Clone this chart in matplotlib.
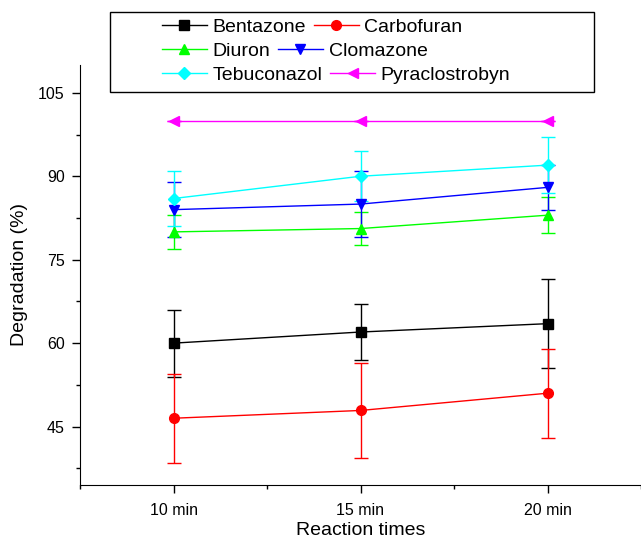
import matplotlib
matplotlib.use('Agg')
import matplotlib.pyplot as plt
from matplotlib.patches import Rectangle
from matplotlib.ticker import MultipleLocator

plt.rcParams['font.family'] = ['Liberation Sans', 'DejaVu Sans']

times = [10, 15, 20]
time_labels = ['10 min', '15 min', '20 min']

bentazone = [60, 62, 63.5]
bentazone_err = [6, 5, 8]
carbofuran = [46.5, 47.9, 51]
carbofuran_err = [8, 8.6, 8]
diuron = [80, 80.6, 83]
diuron_err = [3, 3, 3.2]
clomazone = [84, 85, 88]
clomazone_err = [5, 6, 4]
tebuconazol = [86, 90, 92]
tebuconazol_err = [5, 4.5, 5]
pyraclostrobyn = [100, 100, 100]
pyraclostrobyn_err = [0, 0, 0]

series = [
    ('Bentazone', bentazone, bentazone_err, 'black', 's'),
    ('Carbofuran', carbofuran, carbofuran_err, 'red', 'o'),
    ('Diuron', diuron, diuron_err, '#00ff00', '^'),
    ('Clomazone', clomazone, clomazone_err, 'blue', 'v'),
    ('Tebuconazol', tebuconazol, tebuconazol_err, 'cyan', 'D'),
    ('Pyraclostrobyn', pyraclostrobyn, pyraclostrobyn_err, 'magenta', '<'),
]

W, H = 641, 543
fig = plt.figure(figsize=(W / 100, H / 100), dpi=100)
ax = fig.add_axes([80 / W, 1 - 485 / H, 1 - 80 / W, (485 - 65) / H])

handles = []
names = []
for name, vals, err, col, mk in series:
    ms = 6.5 if mk == 'D' else 7
    eb = ax.errorbar(times, vals, yerr=err, color=col, marker=mk, markersize=ms,
                     linewidth=1, elinewidth=1, capsize=5, capthick=1)
    handles.append(eb.lines[0])
    names.append(name)

ax.set_xlim(7.5, 22.5)
ax.set_ylim(34.5, 110)
ax.set_xticks(times)
ax.set_xticklabels(time_labels)
ax.xaxis.set_minor_locator(MultipleLocator(2.5))
ax.yaxis.set_major_locator(MultipleLocator(15))
ax.yaxis.set_minor_locator(MultipleLocator(7.5))
ax.spines['top'].set_visible(False)
ax.spines['right'].set_visible(False)
ax.tick_params(which='major', direction='out', length=6, width=1, labelsize=11.5, pad=5)
ax.tick_params(which='minor', direction='out', length=3, width=1)
ax.tick_params(axis='x', which='both', pad=7)
ax.set_xlabel('Reaction times', fontsize=14, labelpad=3)
ax.set_ylabel('Degradation (%)', fontsize=14, labelpad=7)

# legend frame, drawn separately so rows can flow like the original
fig.patches.append(Rectangle((110 / W, 1 - 92 / H), (594 - 110) / W, 80 / H,
                             transform=fig.transFigure, fill=False,
                             edgecolor='black', linewidth=1))
rows = [(0, 27), (2, 51), (4, 75)]
for i, yc in rows:
    fig.legend(handles[i:i + 2], names[i:i + 2], loc='center left',
               bbox_to_anchor=(162 / W, 1 - yc / H), ncol=2, frameon=False,
               fontsize=14, handlelength=2.3, handletextpad=0.3,
               columnspacing=0.4, borderpad=0, borderaxespad=0)

fig.savefig('out.png', dpi=100)
